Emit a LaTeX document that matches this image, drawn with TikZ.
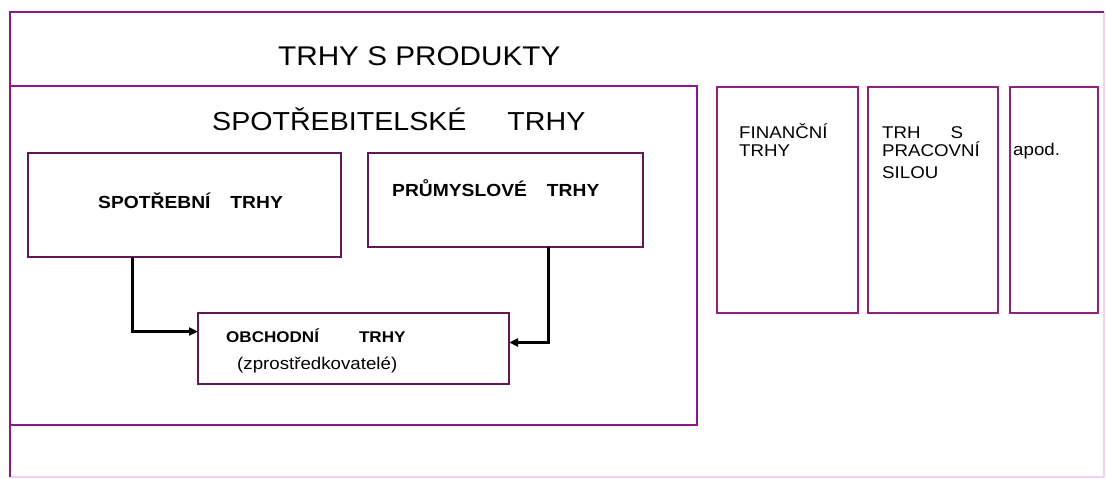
\documentclass[tikz,border=0pt]{standalone}
\usepackage{fontspec}
\setmainfont[FakeStretch=1.1]{Liberation Sans}
\usetikzlibrary{arrows.meta}
\definecolor{frameline}{RGB}{140,25,140}
\definecolor{frameedge}{RGB}{250,205,245}
\definecolor{boxline}{RGB}{100,22,85}
\definecolor{sideline}{RGB}{145,35,125}
\newcommand{\fs}[1]{\fontsize{#1}{#1}\selectfont}
\begin{document}
\begin{tikzpicture}[x=1pt,y=-1pt,
  area/.style={anchor=north west, inner sep=0pt, outer sep=0pt},
  box/.style={area, draw=boxline, line width=2.6pt},
  sidebox/.style={area, draw=sideline, line width=2.6pt},
  txt/.style={anchor=base west, inner sep=0pt},
  flow/.style={draw=black, line width=3pt, -{Triangle[length=9pt,width=8pt]}}
]
\useasboundingbox (0,0) rectangle (1106,479);

% outer frame: products market
\node[area, minimum width=1094pt, minimum height=465pt] (outer) at (10,12) {};
\draw[frameedge, line width=2pt] (outer.north east) -- (outer.south east) -- (outer.south west);
\draw[frameline, line width=2.4pt] (outer.south west) -- (outer.north west) -- (outer.north east);
\node[txt, font=\fs{27}] (title) at (278,65) {TRHY S PRODUKTY};

% consumer markets block
\node[box, draw=frameline, line width=2.4pt, minimum width=687pt, minimum height=339pt] (cons) at (10,86) {};
\node[txt, font=\fs{26}] (constitle) at (212,130) {SPOTŘEBITELSKÉ\hspace{41pt}TRHY};

\node[box, minimum width=313pt, minimum height=104pt] (spot) at (28,153) {};
\node[txt, font=\fs{17.5}\bfseries] (spottxt) at (98,208) {SPOTŘEBNÍ\hspace{20pt}TRHY};

\node[box, minimum width=275pt, minimum height=94pt] (prum) at (368,153) {};
\node[txt, font=\fs{17.5}\bfseries] (prumtxt) at (392,196) {PRŮMYSLOVÉ\hspace{20pt}TRHY};

\node[box, minimum width=311pt, minimum height=71pt] (obch) at (198,313) {};
\node[txt, font=\fs{15.5}\bfseries] (obchtxt) at (226,342.5) {OBCHODNÍ\hspace{40pt}TRHY};
\node[txt, font=\fs{17}] (obchsub) at (237,369.5) {(zprostředkovatelé)};

% flows into the trade markets
\draw[flow] ([xshift=104pt]spot.south west) |- ([yshift=17pt]obch.west);
\draw[flow] ([xshift=-95pt]prum.south east) |- ([yshift=6pt]obch.east);

% other markets
\node[sidebox, minimum width=141pt, minimum height=226pt] (fin) at (717,87) {};
\node[txt, font=\fs{17}] (fin1) at (739,138) {FINANČNÍ};
\node[txt, font=\fs{17}] (fin2) at (739,156) {TRHY};

\node[sidebox, minimum width=130pt, minimum height=226pt] (prac) at (868,87) {};
\node[txt, font=\fs{17}] (prac1) at (882,138) {TRH\hspace{30pt}S};
\node[txt, font=\fs{17}] (prac2) at (882,156) {PRACOVNÍ};
\node[txt, font=\fs{17}] (prac3) at (882,178) {SILOU};

\node[sidebox, minimum width=88pt, minimum height=226pt] (apod) at (1010,87) {};
\node[txt, font=\fs{17}] (apodtxt) at (1013,155) {apod.};
\end{tikzpicture}
\end{document}
